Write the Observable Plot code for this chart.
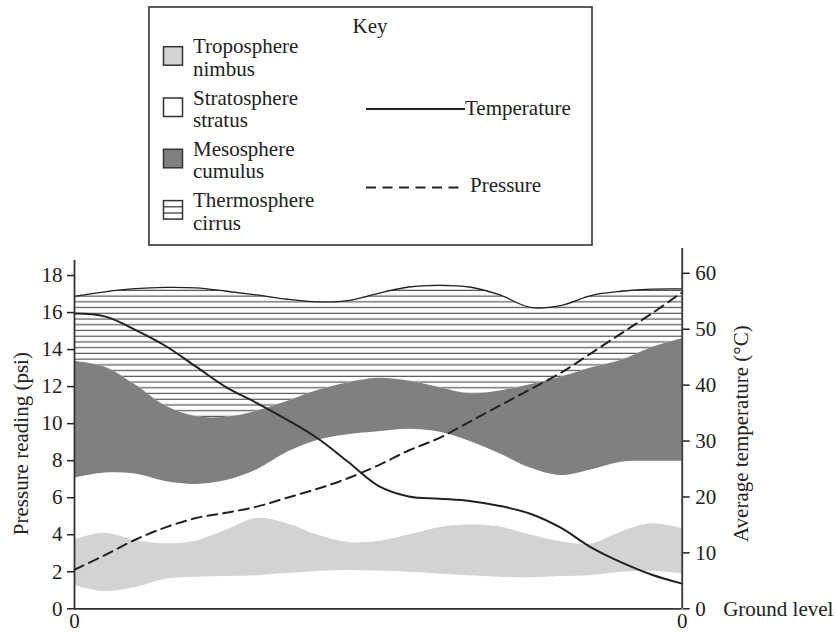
<!DOCTYPE html>
<html>
<head>
<meta charset="utf-8">
<script src="https://cdn.jsdelivr.net/npm/d3@7"></script>
<script src="https://cdn.jsdelivr.net/npm/@observablehq/plot@0.6"></script>
<style>
  html, body { margin: 0; padding: 0; background: #fff; }
  #key { width: 836px; height: 248px; }
  #key svg, #chart svg { display: block; }
</style>
</head>
<body>
<div id="key"></div>
<div id="chart"></div>
<script>
// ---- data ----
const positions    = [0, 5, 10, 15, 20, 25, 30, 35, 40, 45, 50, 55, 60, 65, 70, 75, 80, 85, 90, 95, 100];
const tropoBottom  = [1.26, 0.93, 1.15, 1.6, 1.7, 1.74, 1.79, 1.9, 2.02, 2.07, 2.04, 1.97, 1.88, 1.78, 1.70, 1.68, 1.74, 1.80, 1.97, 2.03, 1.89];
const tropoTop     = [3.73, 4.08, 3.69, 3.51, 3.65, 4.25, 4.88, 4.6, 3.98, 3.58, 3.63, 3.98, 4.38, 4.52, 4.42, 3.98, 3.62, 3.5, 4.15, 4.59, 4.32];
const mesoBottom   = [7.05, 7.33, 7.28, 6.88, 6.72, 6.93, 7.5, 8.45, 9.09, 9.4, 9.56, 9.7, 9.55, 9.05, 8.37, 7.6, 7.2, 7.5, 7.92, 7.97, 7.97];
const mesoTop      = [13.37, 13.05, 12.1, 10.95, 10.38, 10.35, 10.68, 11.2, 11.79, 12.2, 12.45, 12.3, 11.95, 11.62, 11.77, 12.1, 12.5, 13.0, 13.42, 14.1, 14.58];
const thermoTop    = [16.88, 17.12, 17.29, 17.36, 17.33, 17.15, 16.95, 16.72, 16.58, 16.64, 17.04, 17.38, 17.47, 17.38, 16.95, 16.28, 16.38, 16.92, 17.15, 17.27, 17.28];
const temperature  = [52.8, 52.3, 49.9, 47.0, 43.3, 39.6, 36.8, 33.8, 30.5, 26.3, 22.0, 20.1, 19.7, 19.3, 18.4, 17.0, 14.5, 11.0, 8.3, 6.1, 4.5];
const pressure     = [2.11, 2.9, 3.73, 4.4, 4.9, 5.19, 5.52, 6.0, 6.48, 7.05, 7.75, 8.55, 9.22, 10.1, 10.98, 11.85, 12.74, 13.8, 14.88, 15.95, 17.1];

const pressureTicks = [0, 2, 4, 6, 8, 10, 12, 14, 16, 18];
const tempTicks     = [0, 10, 20, 30, 40, 50, 60];
const xTickLabels   = ["0", "0"];
const yLabelLeft    = "Pressure reading (psi)";
const yLabelRight   = "Average temperature (°C)";
const groundLabel   = "Ground level";
const keyTitle      = "Key";
const layerNames    = ["Troposphere", "Stratosphere", "Mesosphere", "Thermosphere"];
const cloudNames    = ["nimbus", "stratus", "cumulus", "cirrus"];
const lineNames     = ["Temperature", "Pressure"];

// ---- styling ----
const FONT = "'Liberation Serif', 'Times New Roman', serif";
const INK = "#222";
const LIGHT = "#d3d3d5";
const DARK = "#808083";
const layerFills = [LIGHT, "#ffffff", DARK, "hatch"];
const K = 0.302; // psi-equivalent per °C on the shared vertical axis

const rows = positions.map((x, i) => ({
  x, tb: tropoBottom[i], tt: tropoTop[i], mb: mesoBottom[i], mt: mesoTop[i],
  th: thermoTop[i], temp: temperature[i] * K, p: pressure[i]
}));

// ---- key ----
const ks = d3.select("#key").append("svg")
  .attr("width", 836).attr("height", 248)
  .style("font-family", FONT).style("font-size", "21px");
ks.append("rect").attr("x", 149).attr("y", 7).attr("width", 443).attr("height", 238)
  .attr("fill", "none").attr("stroke", "#333").attr("stroke-width", 1.6);
ks.append("text").attr("x", 370).attr("y", 33).attr("text-anchor", "middle").attr("fill", INK).text(keyTitle);
layerNames.forEach((name, i) => {
  const base = 53.3 + 51.3 * i;
  const sy = base - 6.6;
  const fill = layerFills[i] === "hatch" ? "#fff" : layerFills[i];
  ks.append("rect").attr("x", 163.5).attr("y", sy).attr("width", 19).attr("height", 18.5)
    .attr("fill", fill).attr("stroke", "#333").attr("stroke-width", 1.5);
  if (layerFills[i] === "hatch") {
    [6.2, 12.4].forEach(o => ks.append("line").attr("x1", 163.5).attr("x2", 182.5)
      .attr("y1", sy + o).attr("y2", sy + o).attr("stroke", "#333").attr("stroke-width", 1.2));
  }
  ks.append("text").attr("x", 193).attr("y", base).attr("fill", INK).text(name);
  ks.append("text").attr("x", 193).attr("y", base + 22.5).attr("fill", INK).text(cloudNames[i]);
});
ks.append("line").attr("x1", 366).attr("x2", 465).attr("y1", 109).attr("y2", 109)
  .attr("stroke", INK).attr("stroke-width", 2);
ks.append("text").attr("x", 465).attr("y", 114.5).attr("fill", INK).text(lineNames[0]);
ks.append("line").attr("x1", 366).attr("x2", 462).attr("y1", 187.5).attr("y2", 187.5)
  .attr("stroke", INK).attr("stroke-width", 2).attr("stroke-dasharray", "10,6.5");
ks.append("text").attr("x", 470).attr("y", 192).attr("fill", INK).text(lineNames[1]);

// ---- chart ----
const chart = Plot.plot({
  width: 836,
  height: 385,
  marginLeft: 74,
  marginRight: 154.3,
  marginTop: 0,
  marginBottom: 24.7,
  x: { domain: [0, 100], axis: null },
  y: { domain: [0, 19.46], axis: null },
  style: { fontFamily: FONT, fontSize: "21px", color: INK, background: "white", overflow: "visible" },
  marks: [
    Plot.areaY(rows, { x: "x", y1: "tb", y2: "tt", fill: LIGHT, curve: "catmull-rom" }),
    Plot.areaY(rows, { x: "x", y1: "mt", y2: "th", fill: "url(#hatch)", curve: "catmull-rom" }),
    Plot.lineY(rows, { x: "x", y: "th", stroke: INK, strokeWidth: 1.3, curve: "catmull-rom" }),
    Plot.areaY(rows, { x: "x", y1: "mb", y2: "mt", fill: DARK, curve: "catmull-rom" }),
    Plot.lineY(rows, { x: "x", y: "p", stroke: INK, strokeWidth: 2, strokeDasharray: "10,6", curve: "catmull-rom" }),
    Plot.lineY(rows, { x: "x", y: "temp", stroke: INK, strokeWidth: 2, curve: "catmull-rom" }),
    Plot.ruleX([0], { y1: 0, y2: 18.81, stroke: "#333", strokeWidth: 1.8 }),
    Plot.ruleX([100], { y1: 0, y2: 19.46, stroke: "#444", strokeWidth: 2 }),
    Plot.ruleY([0], { stroke: "#333", strokeWidth: 1.8 }),
    Plot.axisY(pressureTicks, { anchor: "left", tickSize: 7, tickPadding: 5, fontSize: 21, label: null, strokeWidth: 1.5 }),
    Plot.axisY(tempTicks.map(t => t * K), { anchor: "right", tickSize: 7, tickPadding: 6, fontSize: 21, label: null, strokeWidth: 1.5, tickFormat: d => String(Math.round(d / K)) }),
    Plot.axisX([0, 100], { anchor: "bottom", tickSize: 0, tickPadding: 4, fontSize: 21, label: null, tickFormat: d => xTickLabels[d === 0 ? 0 : 1] }),
    Plot.text([yLabelLeft], { text: d => d, frameAnchor: "left", textAnchor: "middle", rotate: -90, dx: -53, dy: 15, fontSize: 21, fill: INK }),
    Plot.text([yLabelRight], { text: d => d, frameAnchor: "right", textAnchor: "middle", rotate: -90, dx: 59, dy: 5, fontSize: 21, fill: INK }),
    Plot.text([groundLabel], { text: d => d, x: () => 100, y: () => 0, dx: 41, textAnchor: "start", fontSize: 21, fill: INK })
  ]
});

// hatch pattern for the thermosphere band
const defs = d3.select(chart).insert("defs", ":first-child");
const pat = defs.append("pattern").attr("id", "hatch").attr("patternUnits", "userSpaceOnUse")
  .attr("x", 0).attr("y", 0).attr("width", 20).attr("height", 5.73);
pat.append("rect").attr("width", 20).attr("height", 5.73).attr("fill", "#fff");
pat.append("line").attr("x1", 0).attr("x2", 20).attr("y1", 2.2).attr("y2", 2.2)
  .attr("stroke", "#333").attr("stroke-width", 1);

document.getElementById("chart").appendChild(chart);
</script>
</body>
</html>
